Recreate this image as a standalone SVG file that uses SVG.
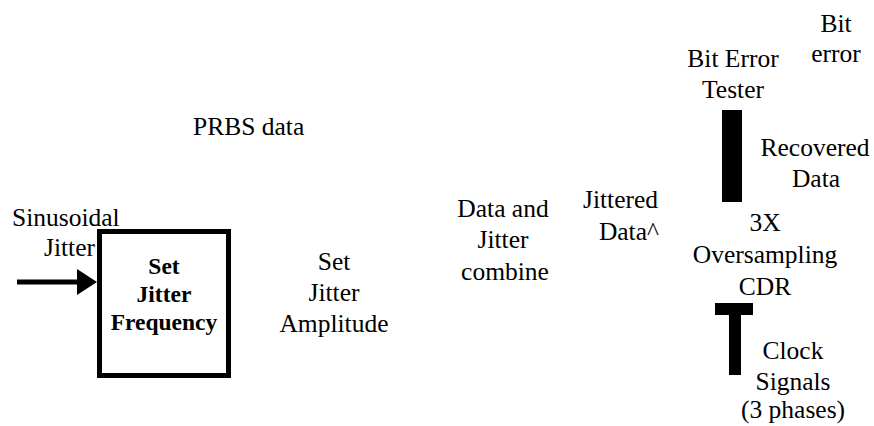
<svg xmlns="http://www.w3.org/2000/svg" width="874" height="426" viewBox="0 0 874 426" font-family="'Liberation Serif', 'DejaVu Serif', serif">
  <defs>
    <marker id="head" markerUnits="userSpaceOnUse" markerWidth="20" markerHeight="26" refX="0" refY="13" orient="auto">
      <path d="M0,0 L20,13 L0,26 Z" fill="#000"/>
    </marker>
    <style>
      text { font-family: 'Liberation Serif', 'DejaVu Serif', serif; font-size: 25.5px; fill: #000; }
      .c { text-anchor: middle; }
      .b { font-weight: bold; font-size: 23.5px; }
      .bar { fill: #000; }
    </style>
  </defs>
  <rect width="874" height="426" fill="#fff"/>

  <g id="connectors">
    <line x1="17" y1="282" x2="77" y2="282" stroke="#000" stroke-width="5" marker-end="url(#head)"/>
    <rect class="bar" x="722" y="110" width="20" height="92"/>
    <rect class="bar" x="715" y="303" width="38" height="12"/>
    <rect class="bar" x="729" y="303" width="12" height="72"/>
  </g>

  <g id="sinusoidal-jitter">
    <text x="12" y="226">Sinusoidal</text>
    <text x="95" y="256" text-anchor="end">Jitter</text>
  </g>

  <g id="set-jitter-frequency">
    <rect x="99.5" y="231.5" width="129" height="144" fill="#fff" stroke="#000" stroke-width="5"/>
    <text class="c b" x="164" y="274">Set</text>
    <text class="c b" x="164" y="302">Jitter</text>
    <text class="c b" x="164" y="330">Frequency</text>
  </g>

  <g id="prbs-data">
    <text x="193" y="135">PRBS data</text>
  </g>

  <g id="set-jitter-amplitude">
    <text class="c" x="334" y="270">Set</text>
    <text class="c" x="334" y="301">Jitter</text>
    <text class="c" x="334" y="332">Amplitude</text>
  </g>

  <g id="data-and-jitter-combine">
    <text class="c" x="503" y="217">Data and</text>
    <text class="c" x="503" y="248">Jitter</text>
    <text class="c" x="505" y="280">combine</text>
  </g>

  <g id="jittered-data">
    <text x="583" y="208">Jittered</text>
    <text x="659" y="240" text-anchor="end">Data^</text>
  </g>

  <g id="bit-error-tester">
    <text class="c" x="733" y="67">Bit Error</text>
    <text class="c" x="733" y="98">Tester</text>
  </g>

  <g id="bit-error">
    <text class="c" x="836" y="32">Bit</text>
    <text class="c" x="836" y="62">error</text>
  </g>

  <g id="recovered-data">
    <text class="c" x="815" y="156">Recovered</text>
    <text class="c" x="816" y="187">Data</text>
  </g>

  <g id="oversampling-cdr">
    <text class="c" x="765" y="231">3X</text>
    <text class="c" x="765" y="263">Oversampling</text>
    <text class="c" x="765" y="295">CDR</text>
  </g>

  <g id="clock-signals">
    <text class="c" x="793" y="359">Clock</text>
    <text class="c" x="793" y="390">Signals</text>
    <text class="c" x="793" y="418">(3 phases)</text>
  </g>
</svg>
